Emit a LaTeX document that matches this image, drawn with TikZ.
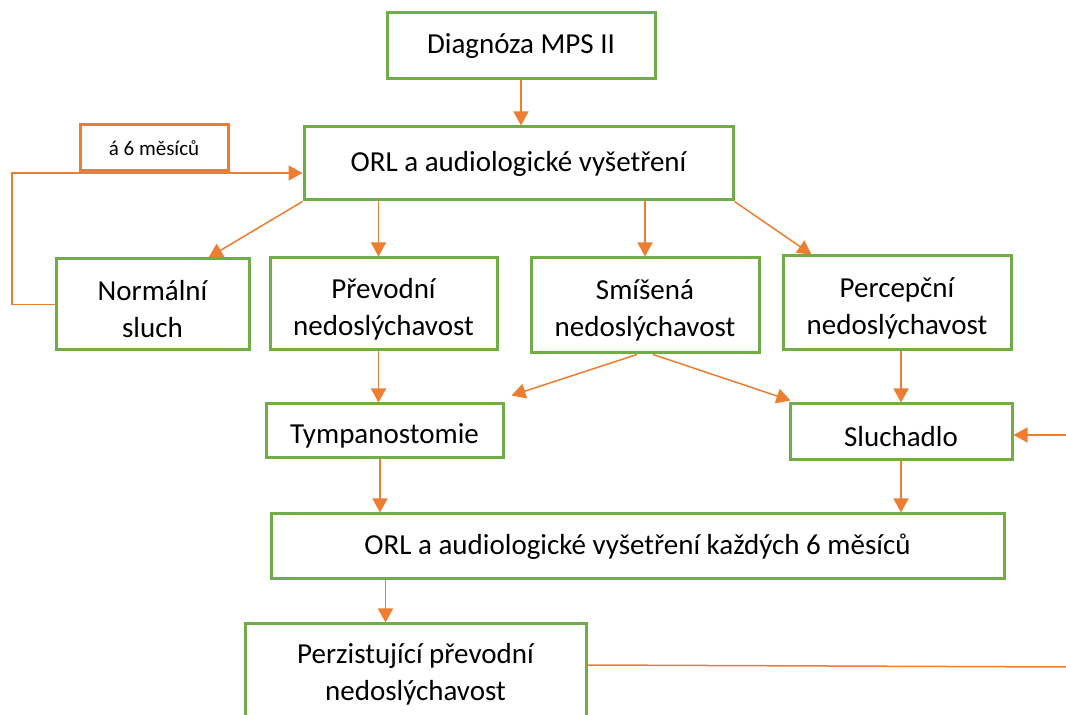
\documentclass[tikz,border=0pt]{standalone}
\usepackage{fontspec}
\setmainfont{Carlito}
\usetikzlibrary{arrows.meta}
\definecolor{boxgreen}{HTML}{70AD47}
\definecolor{arrorange}{HTML}{ED7D31}
\newcommand\lowtxt{\rule{0pt}{30pt}}
\tikzset{
  gbox/.style={draw=boxgreen, line width=3pt, inner sep=0pt, align=center,
    font=\fontsize{29}{37}\selectfont, text=black},
  obox/.style={draw=arrorange, line width=3pt, inner sep=0pt, align=center,
    font=\fontsize{21}{25}\selectfont, text=black},
  arr/.style={draw=arrorange, line width=1.5pt, -{Triangle[length=14pt,width=15pt]}},
  plain/.style={draw=arrorange, line width=1.5pt}
}
\begin{document}
\begin{tikzpicture}[x=1pt,y=1pt]
\useasboundingbox (0,0) rectangle (1066,715);
\clip (0,0) rectangle (1066,715);
\node[gbox, minimum width=268pt, minimum height=66pt] (diag) at (521,669) {Diagnóza MPS II};
\node[gbox, minimum width=429pt, minimum height=73pt] (orl) at (518.5,551.5) {ORL a audiologické vyšetření};
\node[obox, minimum width=148pt, minimum height=46pt] (mes) at (154,567) {á 6 měsíců};
\node[gbox, minimum width=193pt, minimum height=91pt] (nor) at (152.5,410.5) {\lowtxt Normální\\sluch};
\node[gbox, minimum width=227pt, minimum height=92pt] (pre) at (383.5,411) {\lowtxt Převodní\\nedoslýchavost};
\node[gbox, minimum width=228pt, minimum height=95pt] (smi) at (645,409.5) {\lowtxt Smíšená\\nedoslýchavost};
\node[gbox, minimum width=228pt, minimum height=94pt] (per) at (897,412) {\lowtxt Percepční\\nedoslýchavost};
\node[gbox, minimum width=237pt, minimum height=54pt] (tym) at (384.5,284) {\lowtxt Tympanostomie};
\node[gbox, minimum width=222pt, minimum height=56pt] (slu) at (901,283) {\lowtxt Sluchadlo};
\node[gbox, minimum width=733pt, minimum height=65pt] (orl6) at (637.5,168.5) {ORL a audiologické vyšetření každých 6 měsíců};
\node[gbox, minimum width=341pt, minimum height=100pt] (prz) at (415.5,41) {Perzistující převodní\\nedoslýchavost};
\coordinate (fb) at (12,542);
\coordinate (rin) at (1066,280);
\coordinate (rout) at (1066,48);
% connectors
\draw[arr] (diag.south) -- (diag.south |- orl.north);
\draw[arr] (orl.south west) -- ([xshift=-42pt]nor.north east);
\draw[arr] ([xshift=-5pt]pre.north |- orl.south) -- ([xshift=-5pt]pre.north);
\draw[arr] (smi.north |- orl.south) -- (smi.north);
\draw[arr] (orl.south east) -- ([xshift=30pt]per.north west);
\draw[arr] ([xshift=-5pt]pre.south) -- ([xshift=-5pt]pre.south |- tym.north);
\draw[arr] ([xshift=-8pt]smi.south) -- ([shift={(7pt,7pt)}]tym.north east);
\draw[arr] ([xshift=8pt]smi.south) -- ([shift={(2pt,2pt)}]slu.north west);
\draw[arr] (slu.north |- per.south) -- (slu.north);
\draw[arr] ([xshift=-4.5pt]tym.south) -- ([xshift=-4.5pt]tym.south |- orl6.north);
\draw[arr] (slu.south) -- (slu.south |- orl6.north);
\draw[arr] ([xshift=-30pt]prz.north |- orl6.south) -- ([xshift=-30pt]prz.north);
\draw[arr] (nor.west) -| (fb) -- (fb -| orl.west);
\draw[arr] (rin) -- (rin -| slu.east);
\draw[plain] ([yshift=9pt]prz.east) -- (rout);
\end{tikzpicture}
\end{document}
